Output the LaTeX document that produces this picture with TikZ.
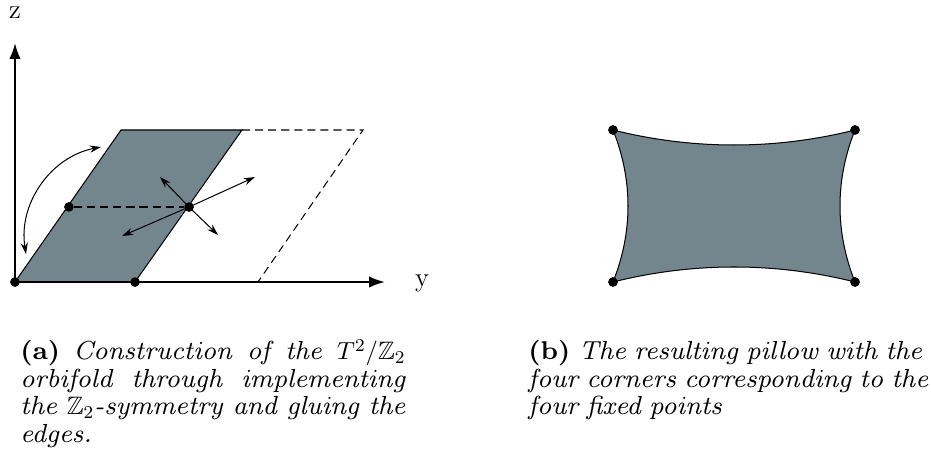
\documentclass[tikz,border=0pt]{standalone}
\usepackage{amsmath}
\usepackage{amssymb}
\usepackage{tikz}
\usetikzlibrary{shapes, arrows, arrows.meta, positioning}
\definecolor{pillowgray}{RGB}{115,134,142}
\font\capit=cmti8 at 11.6pt
\font\capbf=cmbx8 at 11.4pt

\begin{document}
\begin{tikzpicture}[x=0.444pt, y=-0.444pt, thin]

\tikzstyle{dot} = [circle, fill=black, inner sep=0pt, minimum size=4.2pt]
\tikzstyle{axis} = [line width=0.9pt, -{Latex[length=7pt, width=5pt]}]
\tikzstyle{edge} = [line width=0.45pt]
\tikzstyle{dashedge} = [line width=0.45pt, dash pattern=on 3.6pt off 2.2pt]
\tikzstyle{move} = [line width=0.45pt, -{Stealth[length=5pt, width=3.2pt]}]
\tikzstyle{caption} = [anchor=base west, inner sep=0pt, text width=171pt, align=justify, font=\fontsize{11.2}{12.2}\selectfont]

\useasboundingbox (0,0) rectangle (931,467);

% Nodes (a)
\node[dot] (o) at (15,282) {};
\node[dot] (b1) at (135,282) {};
\node[dot] (m1) at (69,207) {};
\node[dot] (m2) at (189,207) {};
\coordinate (tl) at (121,130);
\coordinate (tr) at (242,130);
\coordinate (tf) at (363,130);
\coordinate (bf) at (258,282);
\coordinate (ztip) at (15,43);
\coordinate (ytip) at (385,282);
\node[font=\large] (zlab) at (15,13) {z};
\node[font=\large] (ylab) at (422,283) {y};

% Shaded half
\fill[pillowgray] (o.center) -- (b1.center) -- (tr) -- (tl) -- cycle;
\draw[edge] (o.center) -- (tl) -- (tr) -- (b1.center);
\draw[dashedge] (tr) -- (tf) -- (bf);
\draw[dashedge] (m1) -- (m2);

% Axes
\draw[axis] (o.center) -- (ztip);
\draw[axis] (o.center) -- (ytip);

% Symmetry arrows
\coordinate (n1) at (160,177);
\coordinate (n2) at (218,235);
\coordinate (n3) at (255,177);
\coordinate (n4) at (122,236);
\draw[move] (m2.center) -- (n1);
\draw[move] (m2.center) -- (n2);
\draw[move] (m2.center) -- (n3);
\draw[move] (m2.center) -- (n4);
\coordinate (g1) at (101,147);
\coordinate (g2) at (26,254);
\draw[line width=0.45pt, {Stealth[length=5pt, width=3.2pt]}-{Stealth[length=5pt, width=3.2pt]}] (g1) to[bend right=44] (g2);

\node[dot] at (o) {};
\node[dot] at (b1) {};
\node[dot] at (m1) {};
\node[dot] at (m2) {};

% Nodes (b)
\node[dot] (p1) at (613,130) {};
\node[dot] (p2) at (855,130) {};
\node[dot] (p3) at (855,282) {};
\node[dot] (p4) at (613,282) {};

\filldraw[fill=pillowgray, edge] (p1.center) .. controls (693,150) and (775,150) .. (p2.center)
  .. controls (835,180) and (835,232) .. (p3.center)
  .. controls (775,262) and (693,262) .. (p4.center)
  .. controls (633,232) and (633,180) .. (p1.center) -- cycle;
\node[dot] at (p1) {};
\node[dot] at (p2) {};
\node[dot] at (p3) {};
\node[dot] at (p4) {};

% Captions
\node[caption] (capa) at (20,360) {{\capbf (a)} {\capit Construction of the $T^2/\mathbb{Z}_2$\linebreak orbifold through implementing\linebreak the $\mathbb{Z}_2$-symmetry and gluing the\linebreak edges.}};
\node[caption, text width=182pt, align=left] (capb) at (528,360) {{\capbf (b)} {\capit The resulting pillow with the\\ four corners corresponding to the\\ four fixed points}};

\end{tikzpicture}
\end{document}
